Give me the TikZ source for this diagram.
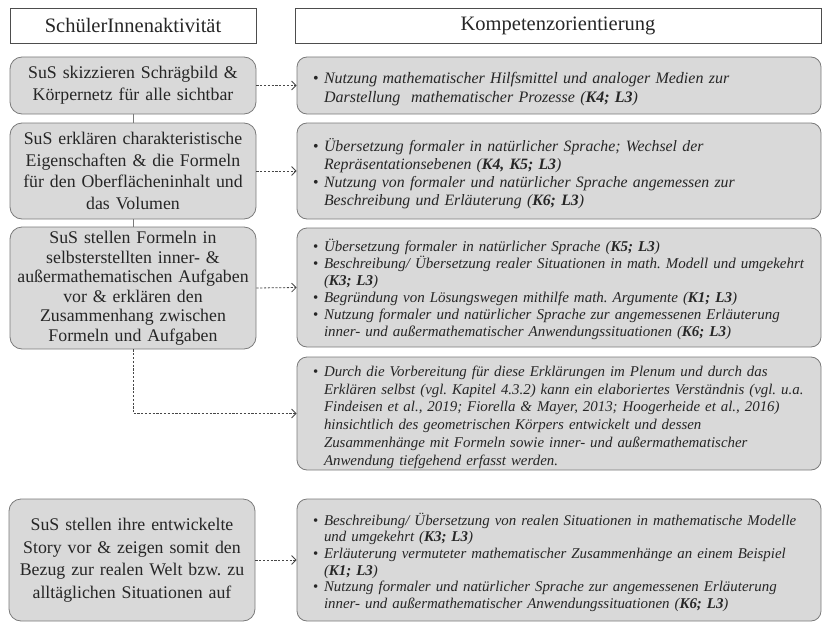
\documentclass[tikz,border=0pt]{standalone}
\usepackage{fontspec}
\setmainfont{Liberation Serif}
\usetikzlibrary{arrows.meta}
\definecolor{boxfill}{HTML}{D9D9D9}
\definecolor{boxline}{HTML}{7A7A7A}
\definecolor{ink}{HTML}{262626}
\definecolor{headline}{HTML}{4D4D4D}

% first line of a bullet item / continuation line (lines are set as given)
\newcommand\bl[1]{\par\noindent\hbox{\makebox[11pt][l]{\upshape\textbullet}#1}}
\newcommand\cl[1]{\par\noindent\hbox{\hspace*{11pt}#1}}
% competence / level reference
\newcommand\kl[1]{(\textbf{#1})}

\begin{document}
\frenchspacing
\begin{tikzpicture}[x=1pt,y=-1pt,
  head/.style={draw=headline, line width=0.8pt, fill=white, minimum height=35pt,
    inner sep=0pt, text=ink, font=\fontsize{20.5}{24}\selectfont},
  lbox/.style={draw=boxline, line width=0.8pt, fill=boxfill, rounded corners=12pt,
    minimum width=246pt, text width=240pt, inner xsep=3pt, inner ysep=0pt,
    align=center, text=ink, font=\fontsize{17.8}{21.7}\selectfont},
  rbox/.style={draw=boxline, line width=0.8pt, fill=boxfill, rounded corners=10pt,
    minimum width=524pt, text width=492pt, inner xsep=16pt, inner ysep=0pt,
    align=left, text=ink},
  flow/.style={draw=boxline, line width=0.8pt},
  link/.style={draw=ink!85, line width=0.8pt, dash pattern=on 2.2pt off 1.6pt,
    -{Straight Barb[length=4.5pt,width=9pt]}}
]
\useasboundingbox (0,0) rectangle (824,626);

% column headings
\node[head, minimum width=246pt] (hl) at (133,25.5) {SchülerInnenaktivität};
\node[head, minimum width=526pt] (hr) at (558,25.5) {Kompetenzorientierung};

% activities
\node[lbox, minimum height=57pt] (l1) at (133,85.5)
  {SuS skizzieren Schrägbild \&\\Körpernetz für alle sichtbar};
\node[lbox, minimum height=96pt] (l2) at (133,171)
  {SuS erklären charakteristische\\Eigenschaften \& die Formeln\\für den Oberflächeninhalt und\\das Volumen};
\node[lbox, minimum height=122pt, font=\fontsize{17.8}{19.5}\selectfont] (l3) at (133,288)
  {SuS stellen Formeln in\\selbsterstellten inner- \&\\außermathematischen Aufgaben\\vor \& erklären den\\Zusammenhang zwischen\\Formeln und Aufgaben};
\node[lbox, minimum height=122pt, font=\fontsize{17.8}{22.5}\selectfont] (l5) at (132,560)
  {SuS stellen ihre entwickelte\\Story vor \& zeigen somit den\\Bezug zur realen Welt bzw. zu\\alltäglichen Situationen auf};

% competences
\node[rbox, minimum height=57pt, font=\itshape\fontsize{16}{18.5}\selectfont] (r1) at (559,85.5) {%
  \bl{Nutzung mathematischer Hilfsmittel und analoger Medien zur}
  \cl{Darstellung\ \ mathematischer Prozesse \kl{K4; L3}}};
\node[rbox, minimum height=96pt, font=\itshape\fontsize{15.8}{18}\selectfont] (r2) at (559,171) {%
  \bl{Übersetzung formaler in natürlicher Sprache; Wechsel der}
  \cl{Repräsentationsebenen \kl{K4, K5; L3}}
  \bl{Nutzung von formaler und natürlicher Sprache angemessen zur}
  \cl{Beschreibung und Erläuterung \kl{K6; L3}}};
\node[rbox, minimum height=119pt, font=\itshape\fontsize{15}{17}\selectfont] (r3) at (559,287.5) {%
  \bl{Übersetzung formaler in natürlicher Sprache \kl{K5; L3}}
  \bl{Beschreibung/ Übersetzung realer Situationen in math. Modell und umgekehrt}
  \cl{\kl{K3; L3}}
  \bl{Begründung von Lösungswegen mithilfe math. Argumente \kl{K1; L3}}
  \bl{Nutzung formaler und natürlicher Sprache zur angemessenen Erläuterung}
  \cl{inner- und außermathematischer Anwendungssituationen \kl{K6; L3}}};
\node[rbox, minimum height=113pt, font=\itshape\fontsize{14.9}{17.8}\selectfont] (r4) at (559,413.5) {%
  \bl{Durch die Vorbereitung für diese Erklärungen im Plenum und durch das}
  \cl{Erklären selbst (vgl. Kapitel 4.3.2) kann ein elaboriertes Verständnis (vgl. u.a.}
  \cl{Findeisen et al., 2019; Fiorella \& Mayer, 2013; Hoogerheide et al., 2016)}
  \cl{hinsichtlich des geometrischen Körpers entwickelt und dessen}
  \cl{Zusammenhänge mit Formeln sowie inner- und außermathematischer}
  \cl{Anwendung tiefgehend erfasst werden.}};
\node[rbox, minimum height=122pt, font=\itshape\fontsize{14.9}{16.6}\selectfont] (r5) at (559,560) {%
  \bl{Beschreibung/ Übersetzung von realen Situationen in mathematische Modelle}
  \cl{und umgekehrt \kl{K3; L3}}
  \bl{Erläuterung vermuteter mathematischer Zusammenhänge an einem Beispiel}
  \cl{\kl{K1; L3}}
  \bl{Nutzung formaler und natürlicher Sprache zur angemessenen Erläuterung}
  \cl{inner- und außermathematischer Anwendungssituationen \kl{K6; L3}}};

% flow between activities
\draw[flow] (l1.south) -- (l2.north);
\draw[flow] (l2.south) -- (l3.north);

% links to competences
\draw[link] (l1.east) -- (r1.west);
\draw[link] (l2.east) -- (r2.west);
\draw[link] (l3.east) -- (r3.west);
\draw[link] (l3.south) |- (r4.west);
\draw[link] (l5.east) -- (r5.west);
\end{tikzpicture}
\end{document}
